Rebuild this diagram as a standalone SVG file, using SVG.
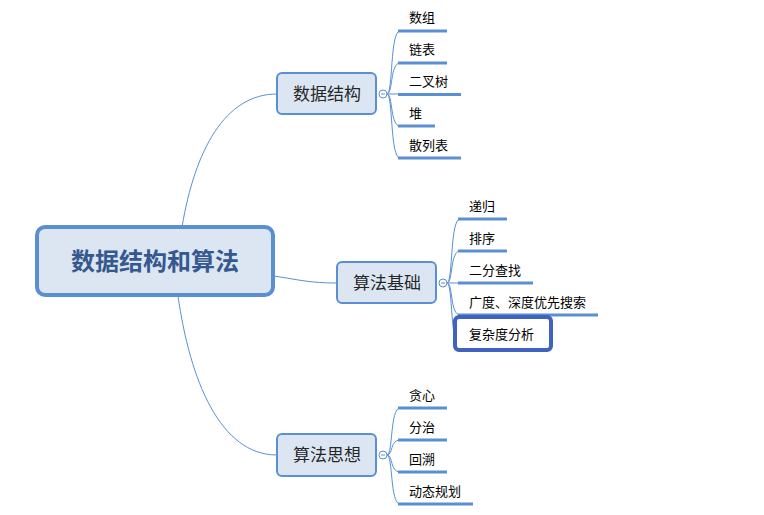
<svg xmlns="http://www.w3.org/2000/svg" width="764" height="515" viewBox="0 0 764 515">
<style>
text{font-family:"Liberation Sans","Noto Sans CJK SC",sans-serif;}
.root rect{fill:#dce6f2;stroke:#5b8fd4;stroke-width:4;}
.root text{font-size:24px;font-weight:bold;fill:#35598f;text-anchor:middle;}
.br rect{fill:#dce6f2;stroke:#5b8fd4;stroke-width:2;}
.br text{font-size:17px;fill:#262626;text-anchor:middle;}
.leaf text{font-size:13px;fill:#000;}
.ul{stroke:#5b8fd4;stroke-width:3;fill:none;}
.conn path{stroke:#5b8fd4;stroke-width:1;fill:none;}
.tog circle{fill:#fff;stroke:#5b8fd4;stroke-width:1;}
.tog line{stroke:#5b8fd4;stroke-width:1;}
</style>
<rect width="764" height="515" fill="#fff"/>
<g id="connectors" class="conn">
<path d="M182,227 C195,150 225,94 277,94"/>
<path d="M274,276 C300,280 310,283 337,283"/>
<path d="M178,296 C190,380 220,455 277,455"/>
<!-- branch 1 -->
<path d="M387,94 L398,94"/>
<path d="M387,94 C393,94 390,31 400,31"/>
<path d="M387,94 C393,94 390,63 400,63"/>
<path d="M387,94 C393,94 390,126 400,126"/>
<path d="M387,94 C393,94 390,158 400,158"/>
<!-- branch 2 -->
<path d="M447,283 L458,283"/>
<path d="M447,283 C453,283 450,219 460,219"/>
<path d="M447,283 C453,283 450,251 460,251"/>
<path d="M447,283 C453,283 450,315 460,315"/>
<path d="M447,283 C453,283 450,347 460,347"/>
<!-- branch 3 -->
<path d="M387,455 C393,455 390,408 400,408"/>
<path d="M387,455 C393,455 390,440 400,440"/>
<path d="M387,455 C393,455 390,472 400,472"/>
<path d="M387,455 C393,455 390,504 400,504"/>
</g>
<g id="root" class="root">
<rect x="37" y="227" width="236" height="68" rx="8"/>
<text x="155" y="270">数据结构和算法</text>
</g>
<g id="b1" class="br">
<rect x="277" y="73" width="99" height="41" rx="5"/>
<text x="327" y="100">数据结构</text>
</g>
<g id="t1" class="tog"><circle cx="383" cy="94" r="4"/><line x1="381" y1="94" x2="385" y2="94"/></g>
<g id="b2" class="br">
<rect x="337" y="262" width="99" height="41" rx="5"/>
<text x="387" y="289">算法基础</text>
</g>
<g id="t2" class="tog"><circle cx="443" cy="283" r="4"/><line x1="441" y1="283" x2="445" y2="283"/></g>
<g id="b3" class="br">
<rect x="277" y="434" width="99" height="42" rx="5"/>
<text x="327" y="461">算法思想</text>
</g>
<g id="t3" class="tog"><circle cx="383" cy="455" r="4"/><line x1="381" y1="455" x2="385" y2="455"/></g>
<g id="l1a" class="leaf"><line class="ul" x1="398" y1="31" x2="447" y2="31"/><text x="409" y="22">数组</text></g>
<g id="l1b" class="leaf"><line class="ul" x1="398" y1="63" x2="447" y2="63"/><text x="409" y="54">链表</text></g>
<g id="l1c" class="leaf"><line class="ul" x1="398" y1="94.5" x2="461" y2="94.5"/><text x="409" y="86">二叉树</text></g>
<g id="l1d" class="leaf"><line class="ul" x1="398" y1="126" x2="435" y2="126"/><text x="409" y="118">堆</text></g>
<g id="l1e" class="leaf"><line class="ul" x1="398" y1="158" x2="461" y2="158"/><text x="409" y="150">散列表</text></g>
<g id="l2a" class="leaf"><line class="ul" x1="458" y1="219" x2="507" y2="219"/><text x="469" y="211">递归</text></g>
<g id="l2b" class="leaf"><line class="ul" x1="458" y1="251" x2="507" y2="251"/><text x="469" y="243">排序</text></g>
<g id="l2c" class="leaf"><line class="ul" x1="458" y1="283" x2="533" y2="283"/><text x="469" y="275">二分查找</text></g>
<g id="l2d" class="leaf"><line class="ul" x1="458" y1="315" x2="598" y2="315"/><text x="469" y="307">广度、深度优先搜索</text></g>
<g id="l2e" class="leaf"><rect x="455" y="317" width="96" height="33" rx="4" fill="#fff" stroke="#3f63bf" stroke-width="4"/><text x="469" y="339">复杂度分析</text></g>
<g id="l3a" class="leaf"><line class="ul" x1="398" y1="408" x2="447" y2="408"/><text x="409" y="400">贪心</text></g>
<g id="l3b" class="leaf"><line class="ul" x1="398" y1="440" x2="447" y2="440"/><text x="409" y="432">分治</text></g>
<g id="l3c" class="leaf"><line class="ul" x1="398" y1="472" x2="447" y2="472"/><text x="409" y="464">回溯</text></g>
<g id="l3d" class="leaf"><line class="ul" x1="398" y1="504" x2="473" y2="504"/><text x="409" y="496">动态规划</text></g>
</svg>
